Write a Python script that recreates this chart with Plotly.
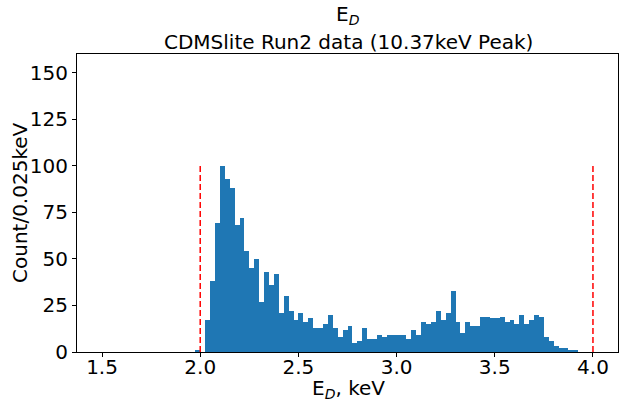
import plotly.graph_objects as go

# ---- data ----
bin_start = 1.5
bin_width = 0.025
counts = [
    0, 0, 0, 0, 0, 0, 0, 0, 0, 0, 0, 0, 0, 0, 0, 0, 0, 0, 0, 1,
    0, 17, 38, 69, 100, 93, 88, 68, 72, 54, 45, 50, 27, 43, 36, 42, 21, 30, 22, 17,
    21, 16, 18, 13, 13, 15, 20, 13, 8, 12, 14, 5, 6, 13, 7, 7, 9, 8, 9, 9,
    9, 9, 7, 12, 9, 16, 15, 16, 22, 17, 21, 33, 16, 10, 16, 14, 14, 19, 19, 18,
    18, 19, 16, 17, 15, 20, 15, 17, 20, 19, 8, 6, 3, 2, 2, 1, 1, 0, 0, 0,
]
cut_lines = [2.0, 4.0]
cut_height = 100
x_ticks = [1.5, 2.0, 2.5, 3.0, 3.5, 4.0]
y_ticks = [0, 25, 50, 75, 100, 125, 150]

title_line1 = "E<sub><i>D</i></sub>"
title_line2 = "CDMSlite Run2 data (10.37keV Peak)"
x_label = "E<sub><i>D</i></sub>, keV"
y_label = "Count/0.025keV"

centers = [bin_start + bin_width * (i + 0.5) for i in range(len(counts))]

FONT = "DejaVu Sans"
fig = go.Figure()
fig.add_trace(go.Bar(x=centers, y=counts, width=bin_width,
                     marker=dict(color="#1f77b4", line=dict(width=0)),
                     showlegend=False))
for c in cut_lines:
    fig.add_trace(go.Scatter(x=[c, c], y=[0, cut_height], mode="lines",
                             line=dict(color="red", dash="6px,3px", width=1.5),
                             showlegend=False))

W, H = 619, 405
plot_l, plot_r, plot_t, plot_b = 77, W - 1, 54, H - 53
fig.update_layout(
    width=W, height=H,
    margin=dict(l=plot_l, r=W - plot_r, t=plot_t, b=H - plot_b),
    plot_bgcolor="white", paper_bgcolor="white",
    bargap=0,
    font=dict(family=FONT, size=20, color="black"),
    xaxis=dict(range=[1.3725, 4.1275], tickvals=x_ticks,
               ticktext=[f"{v:.1f}" for v in x_ticks],
               showline=True, mirror=True, linecolor="black", linewidth=1,
               ticks="outside", ticklen=4, tickwidth=1, tickcolor="black",
               ticklabelstandoff=-7,
               showgrid=False, zeroline=False, tickfont=dict(size=20)),
    yaxis=dict(range=[0, 160], tickvals=y_ticks,
               showline=True, mirror=True, linecolor="black", linewidth=1,
               ticks="outside", ticklen=4, tickwidth=1, tickcolor="black",
               showgrid=False, zeroline=False, tickfont=dict(size=20)),
)


def px_to_paper(px, py):
    return ((px - plot_l) / (plot_r - plot_l), (plot_b - py) / (plot_b - plot_t))


def add_text(text, px, py, angle=0, size=20):
    x, y = px_to_paper(px, py)
    fig.add_annotation(text=text, xref="paper", yref="paper", x=x, y=y,
                       xanchor="center", yanchor="middle", showarrow=False,
                       textangle=angle, font=dict(size=size))


add_text(title_line1, 348, 15)
add_text(title_line2, 348, 42)
add_text(x_label, 348, 389)
add_text(y_label, 20, 203, angle=-90)

fig.write_html("out.html")
